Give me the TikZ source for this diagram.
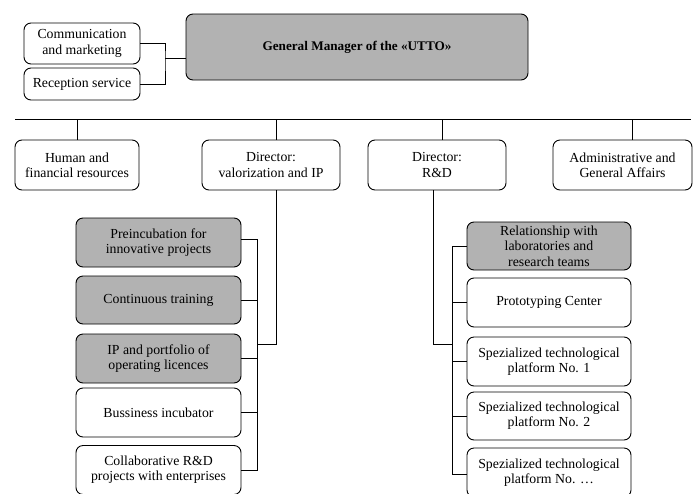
\documentclass[tikz,border=0pt]{standalone}
\usepackage{fontspec}
\setmainfont{Liberation Serif}
\definecolor{boxgray}{RGB}{178,178,178}
\begin{document}
\begin{tikzpicture}[x=1pt,y=-1pt,
  box/.style={draw, line width=0.9pt, rounded corners=7pt, align=center,
    inner sep=0pt, font=\fontsize{13.8}{15.3}\selectfont},
  shaded/.style={box, fill=boxgray},
  wire/.style={line width=1pt}]
\clip (0,0) rectangle (696,493);
\fill[white] (0,0) rectangle (696,493);

% top row
\node[box, minimum width=116pt, minimum height=41pt] (comm) at (82,43.5) {Communication\\and marketing};
\node[box, minimum width=116pt, minimum height=32pt] (rec) at (82,84) {Reception service};
\node[shaded, minimum width=342pt, minimum height=66pt,
      font=\fontsize{13.2}{15}\selectfont\bfseries] (gm) at (357,47) {General Manager of the «UTTO»};

\coordinate (j1) at (165,58);
\draw[wire] (comm.east) -| (j1) |- (rec.east);
\draw[wire] (j1) -- (gm.west |- j1);

% second row
\node[box, minimum width=124pt, minimum height=50pt] (hum) at (77,165) {Human and\\financial resources};
\node[box, minimum width=138pt, minimum height=50pt] (dval) at (271,165) {Director:\\valorization and IP};
\node[box, minimum width=138pt, minimum height=50pt] (drd) at (437,165) {Director:\\R\&D};
\node[box, minimum width=139pt, minimum height=50pt] (adm) at (622.5,165) {Administrative and\\General Affairs};

\coordinate (busL) at (15,119);
\coordinate (busR) at (691,119);
\draw[wire] (busL) -- (busR);
\draw[wire] (hum.north) -- (hum.north |- busL);
\draw[wire] ([xshift=5pt]dval.north) -- ([xshift=5pt]dval.north |- busL);
\draw[wire] ([xshift=5pt]drd.north) -- ([xshift=5pt]drd.north |- busL);
\draw[wire] ([xshift=9.5pt]adm.north) -- ([xshift=9.5pt]adm.north |- busL);

% valorization branch
\node[shaded, minimum width=165pt, minimum height=49pt] (pre) at (158.5,242.5) {Preincubation for\\innovative projects};
\node[shaded, minimum width=165pt, minimum height=48pt] (cont) at (158.5,300) {Continuous training};
\node[shaded, minimum width=165pt, minimum height=49pt] (ip) at (158.5,358.5) {IP and portfolio of\\operating licences};
\node[box, minimum width=165pt, minimum height=49pt] (bus) at (158.5,412.5) {Bussiness incubator};
\node[box, minimum width=165pt, minimum height=49pt] (col) at (158.5,470) {Collaborative R\&D\\projects with enterprises};

\coordinate (vs) at (257,344);
\draw[wire] ([xshift=5pt]dval.south) |- (vs);
\draw[wire] ([yshift=3pt]pre.east) -| (vs);
\draw[wire] (col.east) -| (vs);
\foreach \n in {cont,ip,bus} \draw[wire] (\n.east) -- (\n.east -| vs);

% R&D branch
\node[shaded, minimum width=164pt, minimum height=48pt] (rel) at (549,246) {Relationship with\\laboratories and\\research teams};
\node[box, minimum width=164pt, minimum height=49pt] (proto) at (549,302.5) {Prototyping Center};
\node[box, minimum width=164pt, minimum height=49pt] (p1) at (549,361.5) {Spezialized technological\\platform No. 1};
\node[box, minimum width=164pt, minimum height=48pt] (p2) at (549,416) {Spezialized technological\\platform No. 2};
\node[box, minimum width=164pt, minimum height=49pt] (p3) at (549,472.5) {Spezialized technological\\platform No. \ldots};

\coordinate (rs) at (452,344);
\draw[wire] ([xshift=-4pt]drd.south) |- (rs);
\draw[wire] (rel.west) -| (rs);
\draw[wire] ([yshift=-2pt]p3.west) -| (rs);
\foreach \n in {proto,p1,p2} \draw[wire] (\n.west) -- (\n.west -| rs);
\end{tikzpicture}
\end{document}
